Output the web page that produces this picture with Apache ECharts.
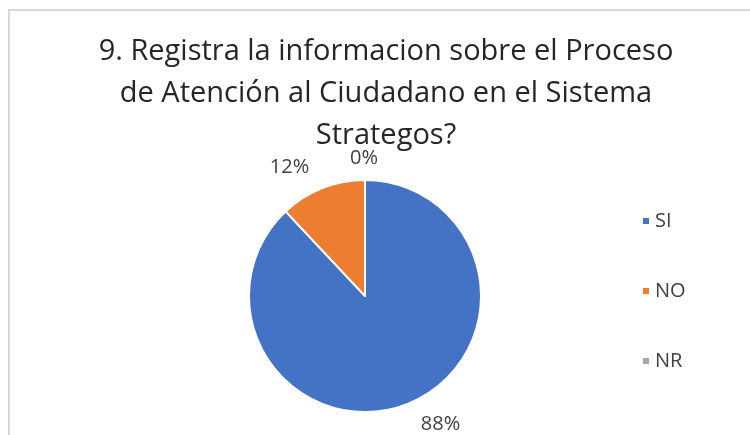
<!DOCTYPE html>
<html>
<head>
    <meta charset="utf-8">
    <title>pie</title>
    <script src="https://cdn.jsdelivr.net/npm/echarts@6/dist/echarts.min.js"></script>
    <style type="text/css">
    body { margin: 0; background: #fff; }
    #frame {
        position: absolute;
        left: 8px;
        top: 9px;
        width: 800px;
        height: 500px;
        border: 2px solid #d9d9d9;
    }
    #main {
        position: absolute;
        left: 0;
        top: 0;
        width: 750px;
        height: 435px;
    }
    </style>
</head>
<body>
    <div id="frame"></div>
    <div id="main"></div>
    <script type="text/javascript">
    var categories = ['SI', 'NO', 'NR'];
    var values = [88, 12, 0];
    var colors = ['#4472C4', '#ED7D31', '#A5A5A5'];

    var data = [];
    for (var i = 0; i < categories.length; i++) {
        data.push({ name: categories[i], value: values[i], itemStyle: { color: colors[i] } });
    }
    // nudge the 0% label so it sits centred over the top of the pie
    data[2].label = { padding: [0, -18, 0, 0] };

    var myChart = echarts.init(document.getElementById('main'));
    myChart.setOption({
        backgroundColor: 'transparent',
        title: {
            text: '9. Registra la informacion sobre el Proceso\nde Atención al Ciudadano en el Sistema\nStrategos?',
            left: 381,
            top: 26,
            textAlign: 'center',
            textStyle: {
                fontFamily: 'Open Sans',
                fontSize: 29,
                fontWeight: 'normal',
                color: '#262626',
                lineHeight: 42
            }
        },
        legend: {
            orient: 'vertical',
            left: 636,
            top: 206,
            itemWidth: 8,
            itemHeight: 8,
            itemGap: 50,
            icon: 'rect',
            data: categories,
            textStyle: {
                fontFamily: 'Open Sans',
                fontSize: 20,
                color: '#404040'
            }
        },
        series: [{
            type: 'pie',
            center: [365, 296],
            radius: 116,
            startAngle: 90,
            clockwise: true,
            avoidLabelOverlap: false,
            itemStyle: { borderColor: '#fff', borderWidth: 2 },
            label: {
                position: 'outside',
                formatter: '{d}%',
                fontFamily: 'Open Sans',
                fontSize: 20,
                color: '#404040'
            },
            labelLine: { show: false, length: 22, length2: 0 },
            data: data
        }]
    });
    </script>
</body>
</html>
